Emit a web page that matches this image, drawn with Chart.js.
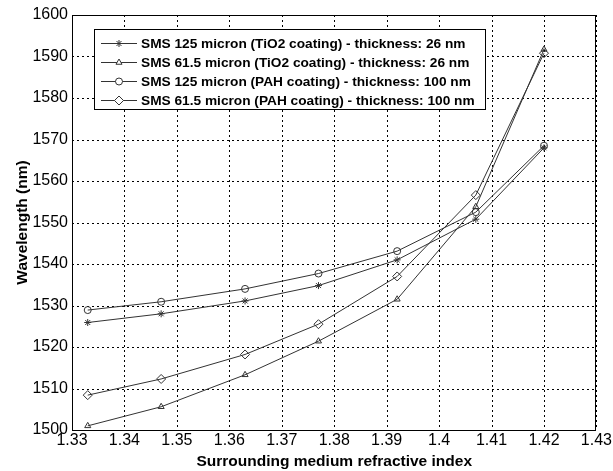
<!DOCTYPE html>
<html>
<head>
<meta charset="utf-8">
<script src="https://cdn.jsdelivr.net/npm/chart.js@4.4.0/dist/chart.umd.min.js"></script>
<style>
  html, body { margin: 0; padding: 0; background: #fff; }
  #wrap { width: 613px; height: 471px; }
</style>
</head>
<body>
<div id="wrap"><canvas id="chartRI" width="613" height="471"></canvas></div>
<script>
// refractive index values (x)
const refIndex = [1.333, 1.347, 1.363, 1.377, 1.392, 1.407, 1.42];

// resonance wavelength (nm) per sensor
const sms125TiO2 = [1525.9, 1528.0, 1531.1, 1534.8, 1541.0, 1550.8, 1568.0];
const sms615TiO2 = [1501.0, 1505.6, 1513.3, 1521.4, 1531.5, 1553.8, 1591.7];
const sms125PAH  = [1528.9, 1530.9, 1534.0, 1537.7, 1543.1, 1552.5, 1568.5];
const sms615PAH  = [1508.4, 1512.3, 1518.2, 1525.5, 1537.0, 1556.6, 1590.8];

const seriesLabels = [
    'SMS 125 micron (TiO2 coating) - thickness: 26 nm',
    'SMS 61.5 micron (TiO2 coating) - thickness: 26 nm',
    'SMS 125 micron (PAH coating) - thickness: 100 nm',
    'SMS 61.5 micron (PAH coating) - thickness: 100 nm'
];
const seriesMarkers = ['star', 'triangle', 'circle', 'rectRot'];

// axis ticks
const xTicks = [1.33, 1.34, 1.35, 1.36, 1.37, 1.38, 1.39, 1.4, 1.41, 1.42, 1.43];
const yTicks = [1500, 1510, 1520, 1530, 1540, 1550, 1560, 1570, 1580, 1590, 1600];

const FONT = '"Liberation Sans", Arial, sans-serif';

function toPoints(ys) {
    return refIndex.map((x, i) => ({ x: x, y: ys[i] }));
}

const allSeries = [sms125TiO2, sms615TiO2, sms125PAH, sms615PAH];

const datasets = allSeries.map((ys, i) => ({
    label: seriesLabels[i],
    data: toPoints(ys),
    showLine: true,
    borderColor: '#333',
    borderWidth: 1,
    pointStyle: seriesMarkers[i],
    pointRadius: seriesMarkers[i] === 'rectRot' ? 4.5 : 3.5,
    pointBorderColor: '#333',
    pointBackgroundColor: 'rgba(255,255,255,0)',
    pointBorderWidth: 1
}));

// white background, dashed grid, frame around the plot
const framePlugin = {
    id: 'frame',
    beforeDraw(chart) {
        const ctx = chart.ctx;
        ctx.save();
        ctx.fillStyle = '#fff';
        ctx.fillRect(0, 0, chart.width, chart.height);
        ctx.restore();
    },
    beforeDatasetsDraw(chart) {
        const a = chart.chartArea;
        const ctx = chart.ctx;
        const xs = chart.scales.x, ys = chart.scales.y;
        ctx.save();
        ctx.strokeStyle = '#000';
        ctx.lineWidth = 1;
        ctx.setLineDash([2, 3]);
        xTicks.forEach(v => {
            const px = Math.round(xs.getPixelForValue(v)) + 0.5;
            ctx.beginPath();
            ctx.moveTo(px, a.top);
            ctx.lineTo(px, a.bottom);
            ctx.stroke();
        });
        yTicks.forEach(v => {
            const py = Math.round(ys.getPixelForValue(v)) + 0.5;
            ctx.beginPath();
            ctx.moveTo(a.left, py);
            ctx.lineTo(a.right, py);
            ctx.stroke();
        });
        ctx.restore();
    },
    afterDraw(chart) {
        const a = chart.chartArea;
        const ctx = chart.ctx;
        ctx.save();
        ctx.strokeStyle = '#000';
        ctx.lineWidth = 1;
        ctx.strokeRect(Math.round(a.left) + 0.5, Math.round(a.top) + 0.5,
            Math.round(a.right - a.left) - 1, Math.round(a.bottom - a.top));
        ctx.restore();
    }
};

// legend box inside the plot, top left
const boxLegend = {
    id: 'boxLegend',
    afterDraw(chart) {
        const ctx = chart.ctx;
        const bx = 94.5, by = 29.5, bw = 391, bh = 80;
        ctx.save();
        ctx.fillStyle = '#fff';
        ctx.fillRect(bx, by, bw, bh);
        ctx.strokeStyle = '#000';
        ctx.lineWidth = 1;
        ctx.strokeRect(bx, by, bw, bh);
        ctx.textBaseline = 'middle';
        chart.data.datasets.forEach((ds, i) => {
            const y = 43.5 + i * 19;
            ctx.beginPath();
            ctx.strokeStyle = '#333';
            ctx.moveTo(101, y);
            ctx.lineTo(137, y);
            ctx.stroke();
            if (Chart.helpers && Chart.helpers.drawPoint) {
                ctx.fillStyle = '#fff';
                Chart.helpers.drawPoint(ctx, {
                    pointStyle: ds.pointStyle,
                    radius: ds.pointRadius,
                    borderWidth: 1,
                    rotation: 0
                }, 119, y);
            }
            ctx.fillStyle = '#000';
            ctx.font = 'bold 13.7px ' + FONT;
            ctx.fillText(ds.label, 141, y + 0.5);
        });
        ctx.restore();
    }
};

const ctx = document.getElementById('chartRI').getContext('2d');

new Chart(ctx, {
    type: 'scatter',
    data: { datasets: datasets },
    options: {
        responsive: false,
        animation: false,
        layout: {
            padding: { left: 0, right: 16, top: 15, bottom: 0 }
        },
        plugins: {
            legend: { display: false },
            tooltip: { enabled: false }
        },
        scales: {
            x: {
                type: 'linear',
                min: 1.33,
                max: 1.43,
                afterBuildTicks: (scale) => {
                    scale.ticks = xTicks.map(v => ({ value: v }));
                },
                afterFit: (scale) => { scale.height = 41; },
                ticks: {
                    color: '#000',
                    padding: 1,
                    maxRotation: 0,
                    autoSkip: false,
                    font: { family: FONT, size: 16 },
                    callback: (v) => String(Number(Number(v).toFixed(2)))
                },
                grid: { display: false, drawTicks: false },
                border: { display: false },
                title: {
                    display: true,
                    text: 'Surrounding medium refractive index',
                    color: '#000',
                    padding: { top: 0, bottom: 0 },
                    font: { family: FONT, size: 15.5, weight: 'bold' }
                }
            },
            y: {
                type: 'linear',
                min: 1500,
                max: 1600,
                afterBuildTicks: (scale) => {
                    scale.ticks = yTicks.map(v => ({ value: v }));
                },
                afterFit: (scale) => { scale.width = 72; },
                ticks: {
                    color: '#000',
                    padding: 4,
                    font: { family: FONT, size: 16 },
                    callback: (v) => String(v)
                },
                grid: { display: false, drawTicks: false },
                border: { display: false },
                title: {
                    display: true,
                    text: 'Wavelength (nm)',
                    color: '#000',
                    padding: { top: 13, bottom: 0 },
                    font: { family: FONT, size: 15.5, weight: 'bold' }
                }
            }
        }
    },
    plugins: [framePlugin, boxLegend]
});
</script>
</body>
</html>
